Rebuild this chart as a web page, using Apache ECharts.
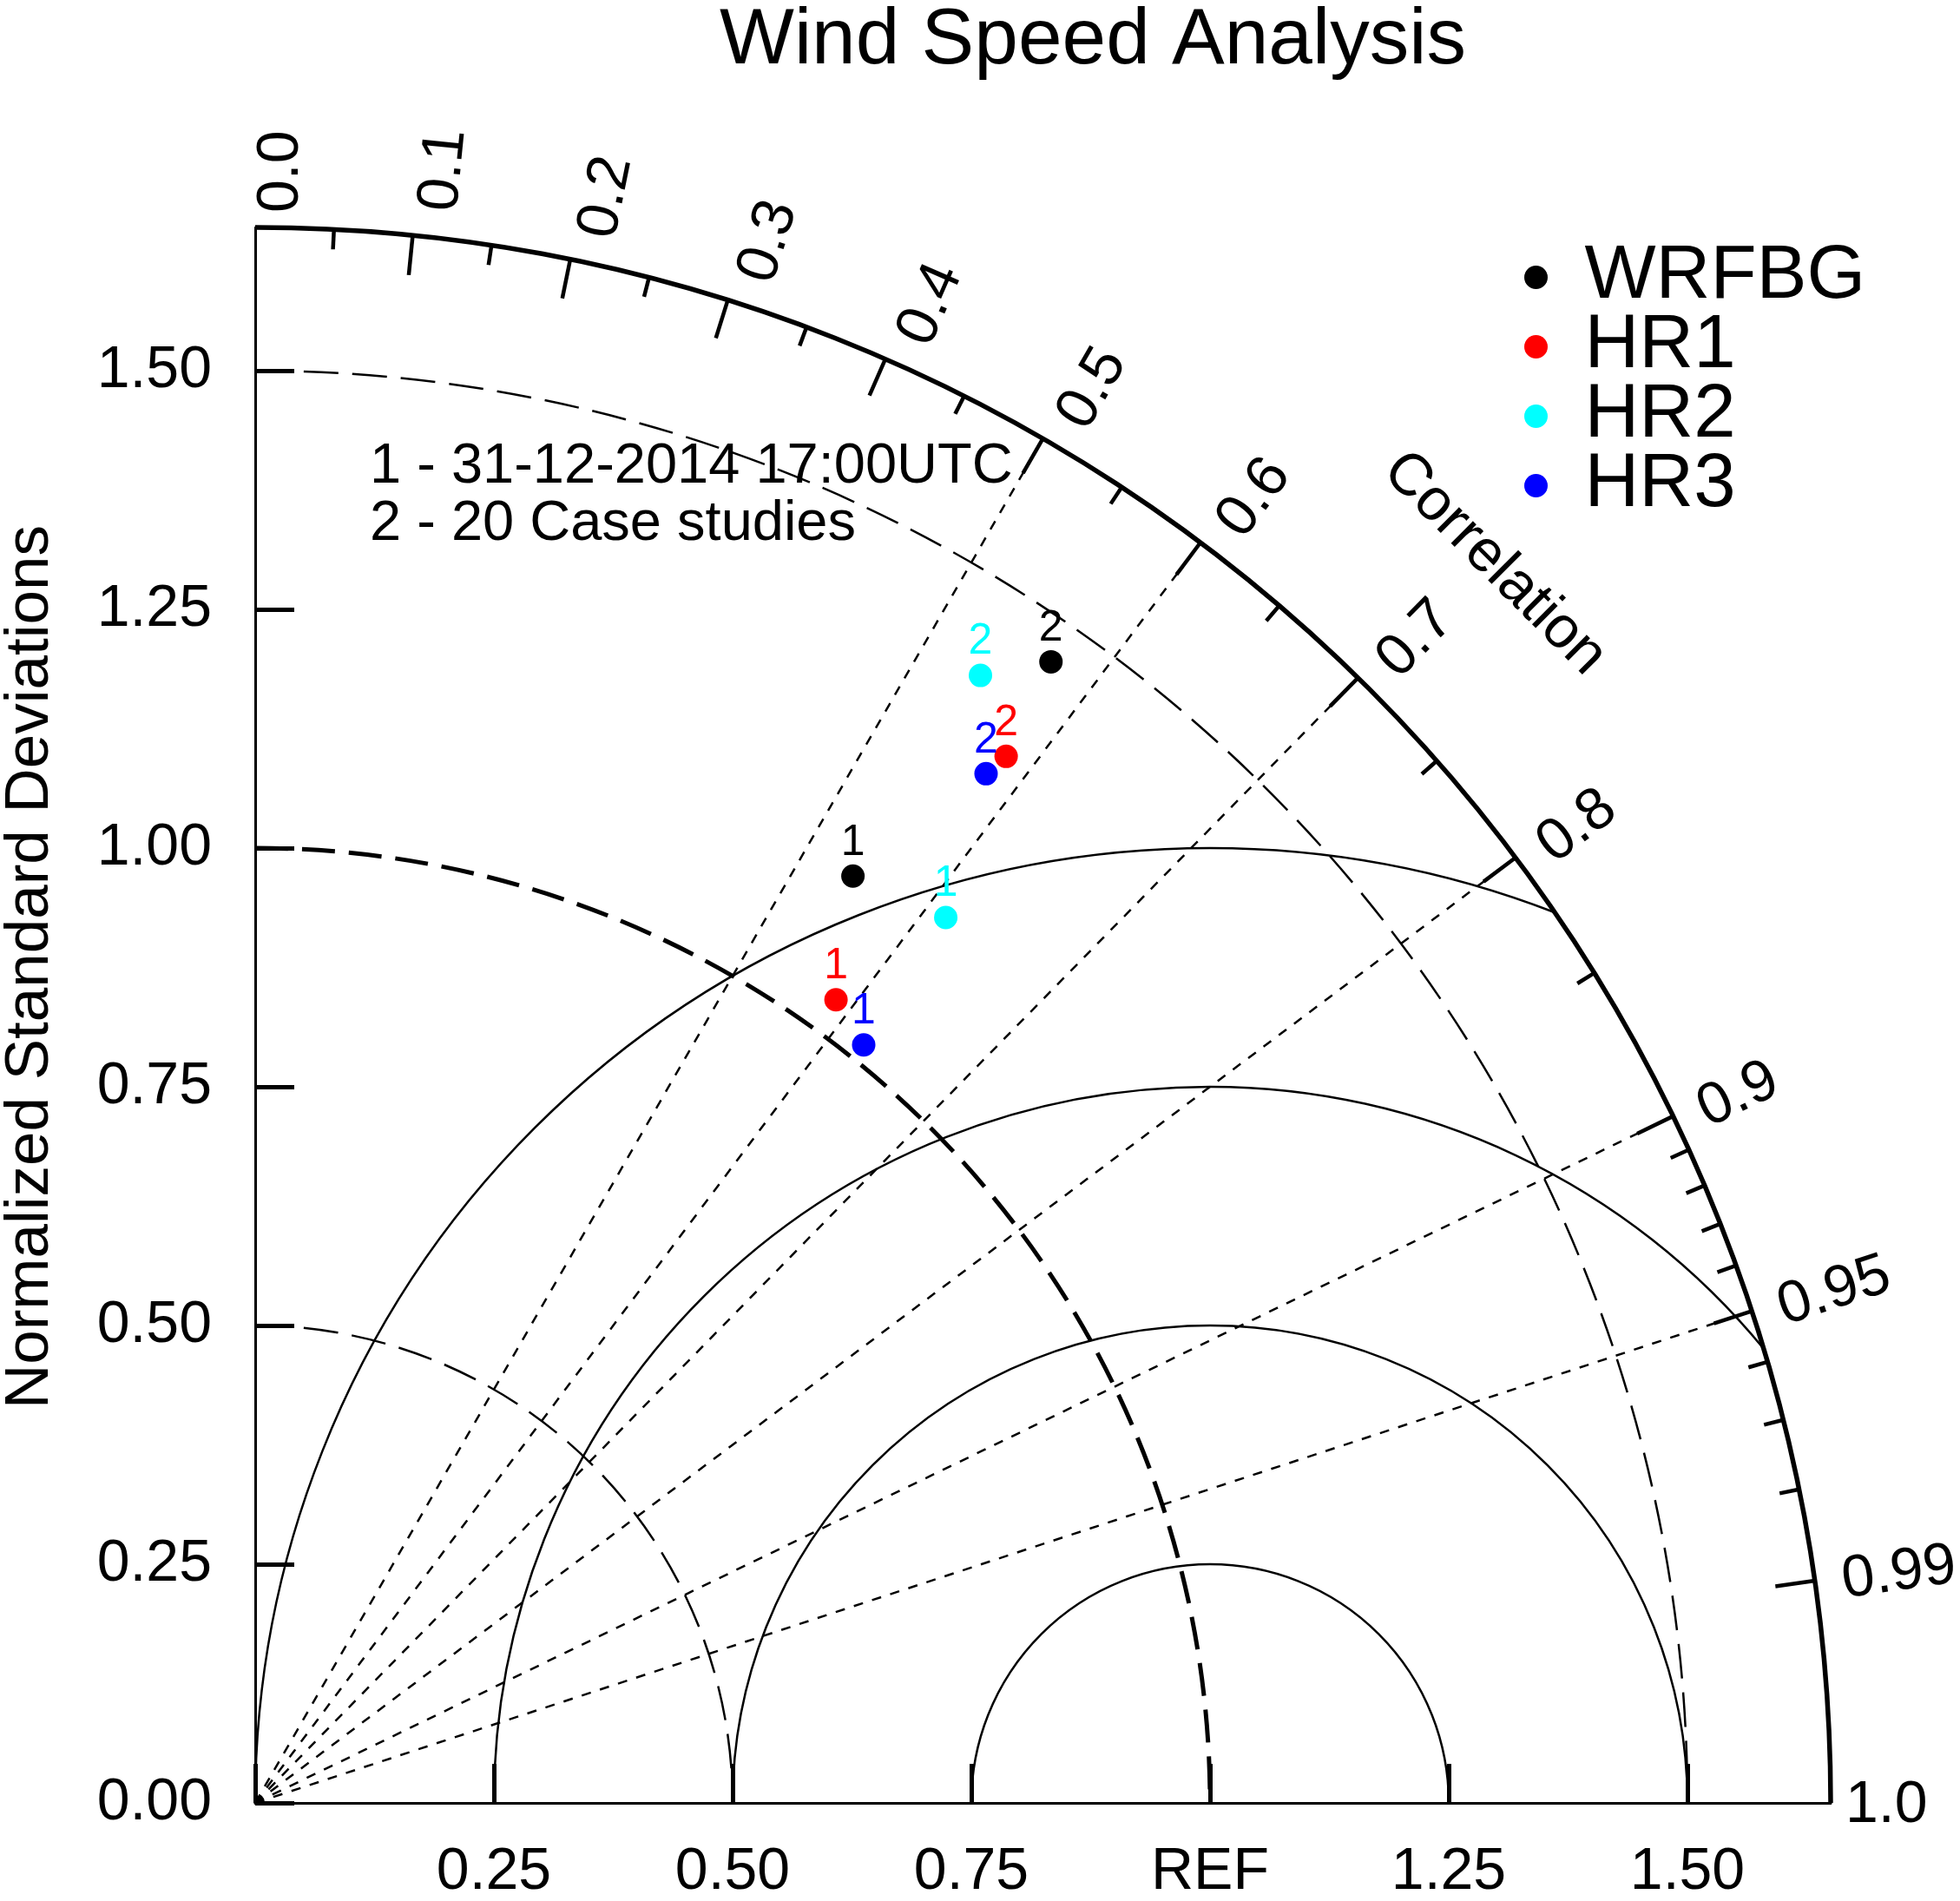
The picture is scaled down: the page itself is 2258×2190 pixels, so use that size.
<!DOCTYPE html>
<html lang="en">
<head>
<meta charset="UTF-8">
<title>Wind Speed Analysis</title>
<style>
  html, body { margin: 0; padding: 0; background: #ffffff; }
  #container { width: 2258px; height: 2190px; }
</style>
</head>
<body>
<div id="container"></div>
<script src="https://cdn.jsdelivr.net/npm/echarts@6/dist/echarts.min.js"></script>
<script>
    // values (normalized std, correlation)
    var seriesNames = ['WRFBG', 'HR1', 'HR2', 'HR3'];
    var seriesColors = ['#000000', '#ff0000', '#00ffff', '#0000ff'];
    var caseLabels = ['1', '2'];

    var wrfbgStd = [1.155, 1.457];
    var wrfbgCor = [0.542, 0.572];
    var hr1Std = [1.038, 1.349];
    var hr1Cor = [0.586, 0.583];
    var hr2Std = [1.176, 1.404];
    var hr2Cor = [0.615, 0.541];
    var hr3Std = [1.018, 1.322];
    var hr3Cor = [0.626, 0.579];

    // axes
    var refStd = 1.0;
    var maxStd = 1.65;
    var stdTicks = [0, 0.25, 0.5, 0.75, 1, 1.25, 1.5];
    var stdLabels = [0.25, 0.5, 0.75, 1, 1.25, 1.5];
    var corLabels = [0, 0.1, 0.2, 0.3, 0.4, 0.5, 0.6, 0.7, 0.8, 0.9, 0.95, 0.99, 1.0];
    var corLabelText = ['0.0', '0.1', '0.2', '0.3', '0.4', '0.5', '0.6', '0.7', '0.8', '0.9', '0.95', '0.99', '1.0'];
    var corMajor = [0.1, 0.2, 0.3, 0.4, 0.5, 0.6, 0.7, 0.8, 0.9, 0.95, 0.99];
    var corMinor = [0.05, 0.15, 0.25, 0.35, 0.45, 0.55, 0.65, 0.75, 0.85, 0.91, 0.92, 0.93, 0.94, 0.96, 0.97, 0.98];
    var corRays = [0.5, 0.6, 0.7, 0.8, 0.9, 0.95];
    var stdArcs = [0.5, 1.0, 1.5];
    var rmsArcs = [0.25, 0.5, 0.75, 1.0];

    var FONT = 'Liberation Sans, Arial, Helvetica, sans-serif';

    var myChart = echarts.init(document.getElementById('container'));

    function sinOf(c) { return Math.sqrt(1 - c * c); }

    // std arcs round the origin (dashed, REF one thick)
    function renderStdArc(params, api) {
        var o = api.coord([0, 0]);
        var unit = api.size([1, 0])[0];
        var r = api.value(0);
        var thick = r === refStd;
        return {
            type: 'arc',
            shape: { cx: o[0], cy: o[1], r: r * unit, startAngle: -Math.PI / 2, endAngle: 0, clockwise: true },
            style: { fill: null, stroke: '#000', lineWidth: thick ? 5 : 2.5, lineDash: thick ? [38, 16] : [40, 16] }
        };
    }

    // centred rms circles round REF, cut at the outer arc
    function renderRmsArc(params, api) {
        var d = api.value(0);
        var c = api.coord([refStd, 0]);
        var unit = api.size([1, 0])[0];
        var end = 0;
        if (refStd + d > maxStd) {
            var xi = (maxStd * maxStd - d * d + refStd * refStd) / (2 * refStd);
            var yi = Math.sqrt(maxStd * maxStd - xi * xi);
            end = Math.atan2(yi, xi - refStd);
        }
        return {
            type: 'arc',
            shape: { cx: c[0], cy: c[1], r: d * unit, startAngle: -Math.PI, endAngle: -end, clockwise: true },
            style: { fill: null, stroke: '#000', lineWidth: 2.5 }
        };
    }

    // dotted correlation rays
    function renderRay(params, api) {
        var c = api.value(0);
        var o = api.coord([0, 0]);
        var p = api.coord([maxStd * c, maxStd * sinOf(c)]);
        return {
            type: 'line',
            shape: { x1: o[0], y1: o[1], x2: p[0], y2: p[1] },
            style: { stroke: '#000', lineWidth: 2.5, lineDash: [11, 11] }
        };
    }

    // ticks on the correlation arc, pointing inward
    function renderCorTick(params, api) {
        var c = api.value(0);
        var major = api.value(1) === 1;
        var len = major ? 46 : 23;
        var s = sinOf(c);
        var p = api.coord([maxStd * c, maxStd * s]);
        return {
            type: 'line',
            shape: { x1: p[0], y1: p[1], x2: p[0] - len * c, y2: p[1] + len * s },
            style: { stroke: '#000', lineWidth: 4.5 }
        };
    }

    // outer arc + axis title
    function renderOuter(params, api) {
        var o = api.coord([0, 0]);
        var unit = api.size([1, 0])[0];
        var R = api.value(0) * unit;
        var a = Math.PI / 4;
        return {
            type: 'group',
            children: [{
                type: 'arc',
                shape: { cx: o[0], cy: o[1], r: R, startAngle: -Math.PI / 2, endAngle: 0, clockwise: true },
                style: { fill: null, stroke: '#000', lineWidth: 5.5 }
            }, {
                type: 'text',
                x: o[0] + (R + 204) * Math.cos(a),
                y: o[1] - (R + 204) * Math.sin(a),
                rotation: -a,
                style: { text: 'Correlation', fontSize: 68, fontFamily: FONT, fill: '#000', align: 'center', verticalAlign: 'middle' }
            }]
        };
    }

    // correlation labels, written along the rays
    function renderCorLabel(params, api) {
        var c = api.value(0);
        var th = Math.acos(c);
        var o = api.coord([0, 0]);
        var unit = api.size([1, 0])[0];
        var gap = (c === 0 || c === 1) ? 17 : 31;
        var d = maxStd * unit + gap;
        var off = 3 + 0.3 * th * 180 / Math.PI;
        return {
            type: 'text',
            x: o[0] + d * Math.cos(th) + off * Math.sin(th),
            y: o[1] - d * Math.sin(th) + off * Math.cos(th),
            rotation: th,
            style: { text: corLabelText[params.dataIndex], fontSize: 68, fontFamily: FONT, fill: '#000', align: 'left', verticalAlign: 'middle' }
        };
    }

    function frame(name, data, fn) {
        return { name: name, type: 'custom', data: data, renderItem: fn, clip: false, silent: true, z: 2 };
    }

    function points(name, color, std, cor) {
        return {
            name: name,
            type: 'scatter',
            symbol: 'circle',
            symbolSize: 27,
            z: 10,
            itemStyle: { color: color, opacity: 1 },
            label: { show: true, position: 'top', distance: 0, formatter: '{b}', color: color, fontSize: 50, fontFamily: FONT },
            data: std.map(function (s, j) {
                return { name: caseLabels[j], value: [s * cor[j], s * sinOf(cor[j])] };
            })
        };
    }

    var ticks = corMajor.map(function (c) { return [c, 1]; })
        .concat(corMinor.map(function (c) { return [c, 0]; }));

    option = {
        animation: false,
        backgroundColor: '#ffffff',
        title: {
            text: 'Wind Speed Analysis',
            left: 829,
            top: 2,
            padding: 0,
            textStyle: { fontSize: 91, fontWeight: 'normal', color: '#000', fontFamily: FONT }
        },
        legend: {
            data: seriesNames,
            orient: 'vertical',
            left: 1756,
            top: 276,
            padding: 0,
            itemGap: -7,
            itemWidth: 102,
            itemHeight: 27,
            icon: 'circle',
            selectedMode: false,
            textStyle: { fontSize: 87, lineHeight: 79, color: '#000', fontFamily: FONT }
        },
        grid: { left: 294, top: 262, width: 1815, height: 1815, show: false, outerBoundsMode: 'none' },
        xAxis: {
            type: 'value',
            min: 0,
            max: maxStd,
            interval: 0.25,
            splitLine: { show: false },
            axisLine: { show: true, onZero: false, lineStyle: { color: '#000', width: 3 } },
            axisTick: { show: true, inside: true, length: 45, customValues: stdTicks, lineStyle: { color: '#000', width: 5 } },
            axisLabel: {
                customValues: stdLabels,
                margin: 46,
                fontSize: 68,
                color: '#000',
                fontFamily: FONT,
                formatter: function (v) {
                    if (stdLabels.indexOf(v) < 0) return '';
                    return v === refStd ? 'REF' : v.toFixed(2);
                }
            }
        },
        yAxis: {
            type: 'value',
            min: 0,
            max: maxStd,
            interval: 0.25,
            splitLine: { show: false },
            axisLine: { show: true, onZero: false, lineStyle: { color: '#000', width: 3 } },
            axisTick: { show: true, inside: true, length: 45, customValues: stdTicks, lineStyle: { color: '#000', width: 5 } },
            axisLabel: {
                customValues: stdTicks,
                margin: 50,
                fontSize: 68,
                color: '#000',
                fontFamily: FONT,
                formatter: function (v) {
                    return stdTicks.indexOf(v) < 0 ? '' : v.toFixed(2);
                }
            }
        },
        graphic: [{
            type: 'text',
            x: 426,
            y: 505,
            style: {
                text: '1 - 31-12-2014 17:00UTC\n2 - 20 Case studies',
                fontSize: 65, lineHeight: 66, fontFamily: FONT, fill: '#000', align: 'left', verticalAlign: 'top'
            }
        }, {
            type: 'text',
            x: 35,
            y: 1114,
            rotation: Math.PI / 2,
            style: { text: 'Normalized Standard Deviations', fontSize: 71, fontFamily: FONT, fill: '#000', align: 'center', verticalAlign: 'middle' }
        }],
        series: [
            frame('stdArcs', stdArcs.map(function (r) { return [r, 0]; }), renderStdArc),
            frame('rmsArcs', rmsArcs.map(function (r) { return [r, 0]; }), renderRmsArc),
            frame('rays', corRays.map(function (c) { return [c, 0]; }), renderRay),
            frame('corTicks', ticks, renderCorTick),
            frame('outer', [[maxStd, 0]], renderOuter),
            frame('corLabels', corLabels.map(function (c) { return [c, 0]; }), renderCorLabel),
            points(seriesNames[0], seriesColors[0], wrfbgStd, wrfbgCor),
            points(seriesNames[1], seriesColors[1], hr1Std, hr1Cor),
            points(seriesNames[2], seriesColors[2], hr2Std, hr2Cor),
            points(seriesNames[3], seriesColors[3], hr3Std, hr3Cor)
        ]
    };

    if (option && typeof option === "object") {
        myChart.setOption(option, true);
    }
</script>
</body>
</html>
